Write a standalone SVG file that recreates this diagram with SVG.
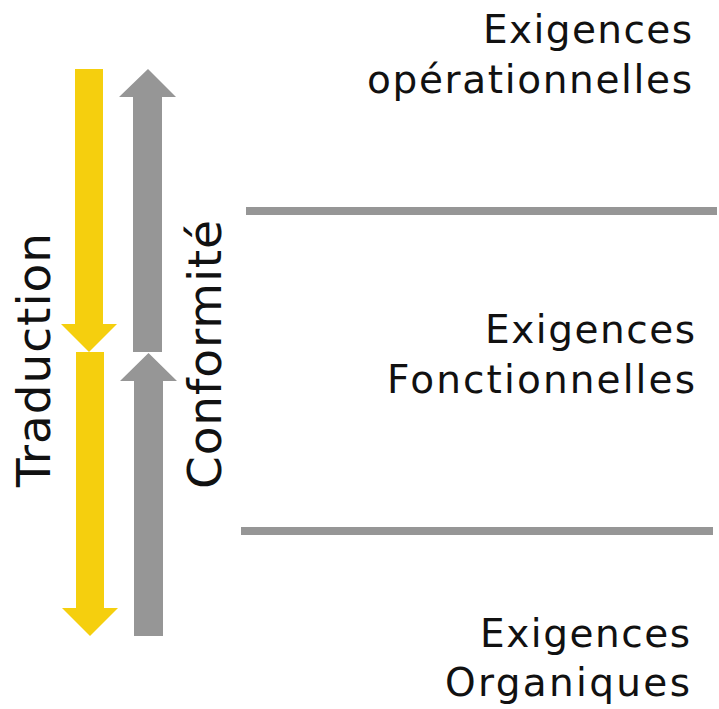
<svg xmlns="http://www.w3.org/2000/svg" width="719" height="709" viewBox="0 0 719 709">
  <style>
    .lbl { font-family: "DejaVu Sans", "Liberation Sans", sans-serif; font-size: 39px; fill: #111111; }
    .vlbl { font-family: "DejaVu Sans", "Liberation Sans", sans-serif; font-size: 47px; fill: #111111; }
    .yel { fill: #F5CF0E; }
    .gry { fill: #969696; }
  </style>
  <rect width="719" height="709" fill="#ffffff"/>
  <g id="separators">
    <rect class="gry" x="246" y="207" width="471" height="8"/>
    <rect class="gry" x="241" y="527" width="472" height="8"/>
  </g>
  <g id="connectors">
    <polygon id="traduction-arrow-1" class="yel" points="75,69 103,69 103,324 117,324 89,352 61,324 75,324"/>
    <polygon id="traduction-arrow-2" class="yel" points="76,352 104,352 104,608 118,608 90,636 62,608 76,608"/>
    <polygon id="conformite-arrow-1" class="gry" points="148,69 176,97 162,97 162,352 133,352 133,97 119,97"/>
    <polygon id="conformite-arrow-2" class="gry" points="148.5,353 177,381 163,381 163,636 134,636 134,381 120,381"/>
  </g>
  <g id="node-operationnelles">
    <text class="lbl" x="483" y="43" textLength="209">Exigences</text>
    <text class="lbl" x="367" y="93" textLength="325">opérationnelles</text>
  </g>
  <g id="node-fonctionnelles">
    <text class="lbl" x="485" y="343" textLength="210">Exigences</text>
    <text class="lbl" x="387" y="393" textLength="308">Fonctionnelles</text>
  </g>
  <g id="node-organiques">
    <text class="lbl" x="480" y="647" textLength="210">Exigences</text>
    <text class="lbl" x="445" y="696" textLength="245">Organiques</text>
  </g>
  <g id="label-traduction">
    <text class="vlbl" transform="translate(50,487) rotate(-90)" x="0" y="0" textLength="254">Traduction</text>
  </g>
  <g id="label-conformite">
    <text class="vlbl" transform="translate(221,489) rotate(-90)" x="0" y="0" textLength="269">Conformité</text>
  </g>
</svg>
